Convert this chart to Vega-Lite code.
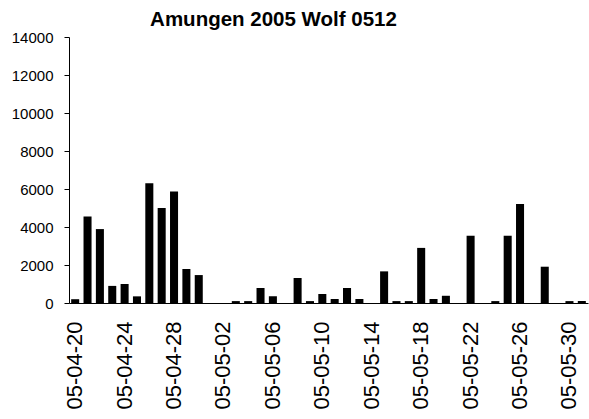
{
  "$schema": "https://vega.github.io/schema/vega-lite/v6.json",
  "width": 519,
  "height": 266,
  "autosize": {"type": "none"},
  "padding": {"left": 69, "top": 37, "right": 1, "bottom": 116},
  "background": "white",
  "title": {
    "text": "Amungen 2005 Wolf 0512",
    "font": "Liberation Sans",
    "fontSize": 20.5,
    "fontWeight": "bold",
    "color": "black",
    "anchor": "middle",
    "frame": "group",
    "dx": -55,
    "dy": 26,
    "baseline": "bottom",
    "offset": 6
  },
  "config": {
    "view": {"stroke": null},
    "axis": {"labelFont": "Liberation Sans", "labelColor": "black", "domainColor": "black", "tickColor": "black", "grid": false, "title": null}
  },
  "data": {
    "values": [
      {"date": "05-04-20", "value": 200},
      {"date": "05-04-21", "value": 4550},
      {"date": "05-04-22", "value": 3890},
      {"date": "05-04-23", "value": 900},
      {"date": "05-04-24", "value": 1000},
      {"date": "05-04-25", "value": 350},
      {"date": "05-04-26", "value": 6300},
      {"date": "05-04-27", "value": 5000},
      {"date": "05-04-28", "value": 5870},
      {"date": "05-04-29", "value": 1790},
      {"date": "05-04-30", "value": 1470},
      {"date": "05-05-01", "value": 0},
      {"date": "05-05-02", "value": 0},
      {"date": "05-05-03", "value": 100},
      {"date": "05-05-04", "value": 100},
      {"date": "05-05-05", "value": 790},
      {"date": "05-05-06", "value": 350},
      {"date": "05-05-07", "value": 0},
      {"date": "05-05-08", "value": 1315},
      {"date": "05-05-09", "value": 100},
      {"date": "05-05-10", "value": 475},
      {"date": "05-05-11", "value": 210},
      {"date": "05-05-12", "value": 790},
      {"date": "05-05-13", "value": 210},
      {"date": "05-05-14", "value": 0},
      {"date": "05-05-15", "value": 1665},
      {"date": "05-05-16", "value": 100},
      {"date": "05-05-17", "value": 100},
      {"date": "05-05-18", "value": 2900},
      {"date": "05-05-19", "value": 210},
      {"date": "05-05-20", "value": 380},
      {"date": "05-05-21", "value": 0},
      {"date": "05-05-22", "value": 3540},
      {"date": "05-05-23", "value": 0},
      {"date": "05-05-24", "value": 100},
      {"date": "05-05-25", "value": 3540},
      {"date": "05-05-26", "value": 5210},
      {"date": "05-05-27", "value": 0},
      {"date": "05-05-28", "value": 1910},
      {"date": "05-05-29", "value": 0},
      {"date": "05-05-30", "value": 100},
      {"date": "05-05-31", "value": 100}
    ]
  },
  "mark": {"type": "bar", "color": "black"},
  "encoding": {
    "x": {
      "field": "date",
      "type": "ordinal",
      "sort": null,
      "scale": {"paddingInner": 0.35, "paddingOuter": 0.175},
      "axis": {
        "values": ["05-04-20", "05-04-24", "05-04-28", "05-05-02", "05-05-06", "05-05-10", "05-05-14", "05-05-18", "05-05-22", "05-05-26", "05-05-30"],
        "labelAngle": -90,
        "labelAlign": "right",
        "labelBaseline": "middle",
        "labelFontSize": 22,
        "ticks": false,
        "tickSize": 0,
        "labelPadding": 18,
        "domainWidth": 1
      }
    },
    "y": {
      "field": "value",
      "type": "quantitative",
      "scale": {"domain": [0, 14000], "nice": false},
      "axis": {
        "values": [0, 2000, 4000, 6000, 8000, 10000, 12000, 14000],
        "labelFontSize": 15,
        "tickSize": 5,
        "labelPadding": 11,
        "format": "d"
      }
    }
  }
}
